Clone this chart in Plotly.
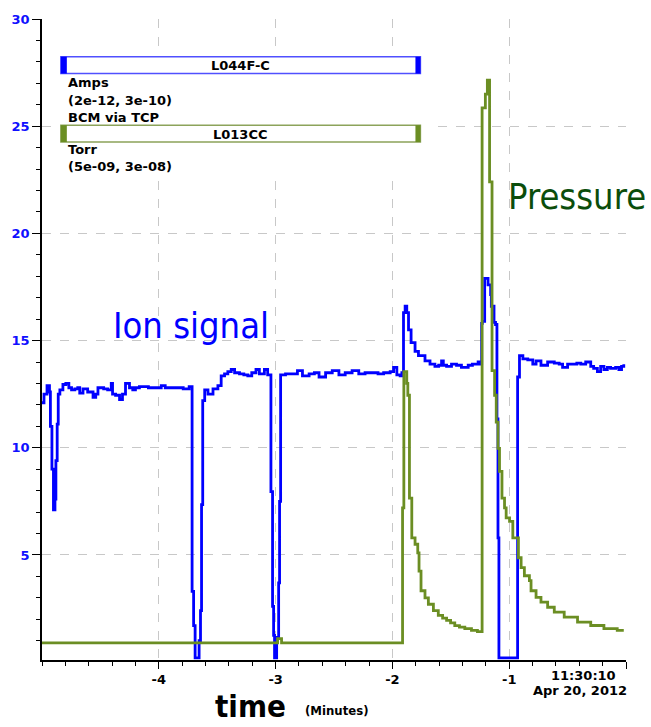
import plotly.graph_objects as go

# Ion signal (beam current monitor), time in minutes before 11:30:10
ion_t = [-5.0, -4.983, -4.957, -4.936, -4.928, -4.915, -4.902, -4.889, -4.881, -4.870,
         -4.861, -4.847, -4.821, -4.796, -4.770, -4.747, -4.719, -4.694, -4.677, -4.649,
         -4.609, -4.563, -4.540, -4.521, -4.472, -4.438, -4.407, -4.396, -4.370, -4.336,
         -4.311, -4.285, -4.251, -4.223, -4.200, -4.166, -4.089, -4.004, -3.979, -3.945,
         -3.860, -3.791, -3.740, -3.715, -3.702, -3.689, -3.655, -3.643, -3.634, -3.624,
         -3.607, -3.579, -3.536, -3.494, -3.466, -3.437, -3.409, -3.380, -3.351, -3.309,
         -3.272, -3.238, -3.204, -3.168, -3.139, -3.096, -3.068, -3.040, -3.026, -3.017,
         -3.009, -2.991, -2.974, -2.966, -2.957, -2.915, -2.855, -2.813, -2.770, -2.713,
         -2.668, -2.628, -2.572, -2.515, -2.458, -2.404, -2.345, -2.288, -2.234, -2.174,
         -2.123, -2.075, -2.019, -1.990, -1.962, -1.934, -1.919, -1.905, -1.891, -1.877,
         -1.862, -1.840, -1.806, -1.777, -1.749, -1.721, -1.678, -1.636, -1.604, -1.579,
         -1.564, -1.536, -1.494, -1.451, -1.409, -1.351, -1.315, -1.266, -1.244, -1.236,
         -1.230, -1.210, -1.181, -1.159, -1.153, -1.130, -1.117, -1.105, -1.096, -1.088,
         -0.928, -0.912, -0.883, -0.841, -0.798, -0.770, -0.728, -0.671, -0.614, -0.572,
         -0.543, -0.500, -0.444, -0.421, -0.387, -0.345, -0.302, -0.277, -0.245, -0.217,
         -0.189, -0.160, -0.132, -0.089, -0.061, -0.038, -0.019]
ion_v = [12.1, 12.5, 12.9, 12.6, 11.0, 9.0, 7.1, 7.6, 9.4, 11.1,
         12.5, 12.7, 12.95, 13.0, 12.8, 12.7, 12.75, 12.8, 12.55, 12.75,
         12.6, 12.35, 12.5, 12.8, 12.75, 12.7, 13.0, 12.5, 12.45, 12.25,
         12.5, 13.0, 12.8, 12.7, 12.8, 12.85, 12.8, 12.8, 12.9, 12.8,
         12.8, 12.75, 12.85, 3.3, 1.7, 0.2, 1.0, 2.4, 7.35, 12.2,
         12.7, 12.5, 12.75, 12.9, 13.35, 13.45, 13.55, 13.65, 13.5, 13.45,
         13.4, 13.35, 13.5, 13.65, 13.45, 13.65, 13.4, 7.95, 2.6, 1.25,
         0.2, 1.15, 3.7, 7.5, 13.4, 13.45, 13.45, 13.6, 13.35, 13.45,
         13.5, 13.3, 13.5, 13.6, 13.4, 13.5, 13.6, 13.45, 13.5, 13.5,
         13.45, 13.5, 13.55, 13.75, 13.4, 13.35, 13.5, 16.3, 16.6, 16.3,
         15.5, 14.9, 14.5, 14.3, 14.3, 14.05, 13.9, 13.8, 13.85, 14.05,
         13.85, 13.8, 13.9, 13.85, 13.75, 13.85, 13.9, 14.0, 13.9, 15.8,
         15.9, 17.9, 17.6, 17.15, 16.6, 15.85, 15.75, 11.35, 5.8, 0.2,
         13.3, 14.3, 14.15, 14.1, 13.9, 14.05, 13.85, 14.0, 13.95, 13.9,
         13.75, 13.9, 13.9, 13.95, 13.9, 14.0, 13.8, 13.7, 13.55, 13.8,
         13.65, 13.75, 13.7, 13.75, 13.65, 13.8, 13.9]

# Vacuum pressure gauge
prs_t = [-5.0, -2.983, -2.949, -1.913, -1.902, -1.877, -1.868, -1.854, -1.834, -1.806,
         -1.783, -1.772, -1.755, -1.721, -1.692, -1.649, -1.607, -1.570, -1.536, -1.502,
         -1.466, -1.426, -1.380, -1.323, -1.272, -1.232, -1.204, -1.187, -1.168, -1.147,
         -1.125, -1.111, -1.096, -1.083, -1.062, -1.040, -1.026, -0.997, -0.969, -0.921,
         -0.898, -0.870, -0.827, -0.813, -0.770, -0.728, -0.671, -0.614, -0.529, -0.415,
         -0.302, -0.189, -0.075, -0.019]
prs_v = [0.9, 1.1, 0.9, 7.2, 13.55, 13.0, 12.45, 7.65, 5.8, 5.5,
         5.1, 4.25, 3.33, 3.0, 2.7, 2.4, 2.18, 2.05, 1.95, 1.83,
         1.7, 1.63, 1.56, 1.48, 1.42, 25.85, 26.5, 27.15, 22.4, 13.6,
         12.45, 11.2, 9.97, 8.9, 7.65, 7.2, 6.73, 6.57, 5.8, 4.87,
         4.41, 4.03, 3.8, 3.33, 3.02, 2.8, 2.56, 2.33, 2.1, 1.87,
         1.71, 1.56, 1.48, 1.48]

x_ticks = [-4, -3, -2, -1, 0]
x_ticktext = ["-4", "-3", "-2", "-1", ""]
y_ticks = [5, 10, 15, 20, 25, 30]

BLUE = "#0000FF"
GREEN = "#6B8E23"
W, H = 651, 727
ML, MR, MT, MB = 38, 25, 14, 67
PW, PH = W - ML - MR, H - MT - MB


def px(x):
    return (x - ML) / PW


def py(y):
    return 1 - (y - MT) / PH


fig = go.Figure()
fig.add_trace(go.Scatter(x=ion_t, y=ion_v, mode="lines", line_shape="hv",
                         line=dict(color=BLUE, width=2.8), showlegend=False))
fig.add_trace(go.Scatter(x=prs_t, y=prs_v, mode="lines", line_shape="hv",
                         line=dict(color=GREEN, width=2.8), showlegend=False))

shapes = []
# white panel behind the channel legend
shapes.append(dict(type="rect", xref="paper", yref="paper", x0=px(55), x1=px(428),
                   y0=py(172), y1=py(45), fillcolor="white", line=dict(width=0),
                   layer="above"))
for y0, y1, col, edge in [(52, 69, BLUE, "#5050FF"), (121, 138, GREEN, "#8CA35A")]:
    shapes.append(dict(type="rect", xref="paper", yref="paper", x0=px(57), x1=px(419),
                       y0=py(y1), y1=py(y0), fillcolor="white",
                       line=dict(color=edge, width=1.5), layer="above"))
    shapes.append(dict(type="rect", xref="paper", yref="paper", x0=px(57), x1=px(63),
                       y0=py(y1), y1=py(y0), fillcolor=col, line=dict(width=0),
                       layer="above"))
    shapes.append(dict(type="rect", xref="paper", yref="paper", x0=px(414), x1=px(419),
                       y0=py(y1), y1=py(y0), fillcolor=col, line=dict(width=0),
                       layer="above"))

small = dict(family="DejaVu Sans", size=13, color="black", weight="bold")
ann = []
ann.append(dict(text="L044F-C", x=px(238), y=py(61), font=small))
ann.append(dict(text="L013CC", x=px(238), y=py(130), font=small))
for txt, yy in [("Amps", 78), ("(2e-12, 3e-10)", 96), ("BCM via TCP", 113),
                ("Torr", 146), ("(5e-09, 3e-08)", 163)]:
    ann.append(dict(text=txt, x=px(62), y=py(yy), xanchor="left", font=small))

big = "DejaVu Sans Condensed, DejaVu Sans"
ann.append(dict(text="Ion signal", x=px(188), y=py(323),
                font=dict(family=big, size=36, color=BLUE)))
ann.append(dict(text="Pressure", x=px(577), y=py(193),
                font=dict(family=big, size=36, color="#0B4D0B")))
ann.append(dict(text="time", x=px(248), y=py(726), yanchor="bottom", borderpad=0,
                font=dict(family=big, size=31, color="black", weight="bold")))
ann.append(dict(text="(Minutes)", x=px(335), y=py(711),
                font=dict(family=big, size=13, color="black", weight="bold")))
ann.append(dict(text="11:30:10", x=px(583), y=py(676),
                font=dict(family="DejaVu Sans", size=13, color="black", weight="bold")))
ann.append(dict(text="Apr 20, 2012", x=px(580), y=py(691),
                font=dict(family="DejaVu Sans", size=13, color="black", weight="bold")))
for a in ann:
    a.update(xref="paper", yref="paper", showarrow=False)
    a.setdefault("xanchor", "center")
    a.setdefault("yanchor", "middle")

grid = dict(showgrid=True, gridcolor="#C8C8C8", griddash="dash", gridwidth=1)

fig.update_layout(
    width=W, height=H,
    margin=dict(l=ML, r=MR, t=MT, b=MB),
    plot_bgcolor="white", paper_bgcolor="white",
    shapes=shapes, annotations=ann,
    xaxis=dict(range=[-5, 0], tickvals=x_ticks, ticktext=x_ticktext,
               ticks="outside", ticklen=7, tickcolor="black", tickwidth=1,
               showline=True, linecolor="black", linewidth=1.5, zeroline=False,
               tickfont=dict(family="DejaVu Sans", size=13, color="black", weight="bold"),
               minor=dict(tick0=0, dtick=0.2, ticks="outside", ticklen=4,
                          tickcolor="black", showgrid=False),
               **grid),
    yaxis=dict(range=[0.1, 30], tickvals=y_ticks,
               ticks="outside", ticklen=8, tickcolor="black", tickwidth=1,
               showline=True, linecolor="black", linewidth=1.5, zeroline=False,
               tickfont=dict(family="DejaVu Sans", size=13, color="#1010FF", weight="bold"),
               minor=dict(tick0=0, dtick=1, ticks="outside", ticklen=4,
                          tickcolor="black", showgrid=False),
               **grid),
)

fig.write_html("out.html")
